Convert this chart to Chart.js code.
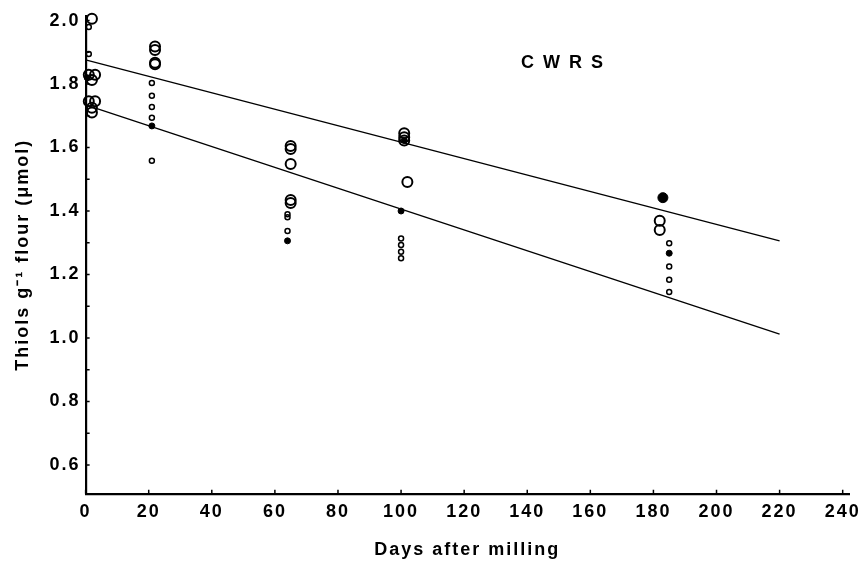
<!DOCTYPE html>
<html>
<head>
<meta charset="utf-8">
<script src="https://cdn.jsdelivr.net/npm/chart.js@4"></script>
<style>
  html, body { margin: 0; padding: 0; background: #fff; }
  #wrap { width: 868px; height: 565px; }
</style>
</head>
<body>
<div id="wrap"><canvas id="chart" width="868" height="565"></canvas></div>
<script>
// Thiol content of CWRS flour vs storage time
const xTicks = [0, 20, 40, 60, 80, 100, 120, 140, 160, 180, 200, 220, 240];
const yTicks = [0.6, 0.7, 0.8, 0.9, 1.0, 1.1, 1.2, 1.3, 1.4, 1.5, 1.6, 1.7, 1.8, 1.9, 2.0];

// large open circles
const largeOpenX = [2, 1, 3, 2, 1, 3, 2, 2, 22, 22, 22, 22, 65, 65, 65, 65, 65, 101, 101, 101, 102, 182, 182];
const largeOpenY = [2.006, 1.829, 1.829, 1.813, 1.746, 1.746, 1.725, 1.71, 1.918, 1.907, 1.867, 1.862, 1.605, 1.595, 1.548, 1.435, 1.425, 1.645, 1.632, 1.622, 1.491, 1.369, 1.340];

// small open circles
const smallOpenX = [1, 1, 21, 21, 21, 21, 21, 64, 64, 64, 100, 100, 100, 100, 185, 185, 185, 185];
const smallOpenY = [1.98, 1.895, 1.803, 1.763, 1.728, 1.694, 1.558, 1.39, 1.38, 1.337, 1.313, 1.293, 1.272, 1.251, 1.298, 1.225, 1.183, 1.145];

// small filled circles
const smallFilledX = [0.5, 21, 64, 100, 101, 185];
const smallFilledY = [1.82, 1.668, 1.306, 1.40, 1.622, 1.267];

// large filled circles
const largeFilledX = [183];
const largeFilledY = [1.442];

// regression lines
const lineX = [0, 220];
const upperLineY = [1.876, 1.306];
const lowerLineY = [1.734, 1.012];

const pts = (xs, ys) => xs.map((x, i) => ({ x, y: ys[i] }));

const FONT = 'Liberation Sans, Arial, sans-serif';

// wide tracking like the typeset original
const spacingPlugin = {
  id: 'tracking',
  beforeDraw(chart) {
    chart.ctx.letterSpacing = '2px';
  }
};

// inward tick marks on both axes + the "CWRS" label
const marksPlugin = {
  id: 'marks',
  afterDraw(chart) {
    const { ctx, scales, chartArea } = chart;
    ctx.save();
    ctx.strokeStyle = '#000';
    ctx.lineWidth = 1.5;
    ctx.beginPath();
    xTicks.forEach(v => {
      const px = scales.x.getPixelForValue(v);
      ctx.moveTo(px, chartArea.bottom);
      ctx.lineTo(px, chartArea.bottom - 4);
    });
    yTicks.forEach(v => {
      const py = scales.y.getPixelForValue(v);
      ctx.moveTo(chartArea.left, py);
      ctx.lineTo(chartArea.left + 4, py);
    });
    ctx.stroke();

    ctx.font = 'bold 18px ' + FONT;
    ctx.letterSpacing = '9px';
    ctx.fillStyle = '#000';
    ctx.textAlign = 'left';
    ctx.textBaseline = 'middle';
    const txt = 'CWRS';
    const w = ctx.measureText(txt).width - 9;
    const px = scales.x.getPixelForValue(151);
    const py = scales.y.getPixelForValue(1.866);
    ctx.fillText(txt, px - w / 2, py);
    ctx.restore();
  }
};

const scatterSet = (xs, ys, radius, border, fill) => ({
  data: pts(xs, ys),
  clip: false,
  pointRadius: radius,
  pointBorderWidth: border,
  pointBorderColor: '#000',
  pointBackgroundColor: fill
});

new Chart(document.getElementById('chart'), {
  type: 'scatter',
  data: {
    datasets: [
      {
        data: pts(lineX, upperLineY),
        showLine: true,
        borderColor: '#000',
        borderWidth: 1.3,
        pointRadius: 0
      },
      {
        data: pts(lineX, lowerLineY),
        showLine: true,
        borderColor: '#000',
        borderWidth: 1.3,
        pointRadius: 0
      },
      scatterSet(largeOpenX, largeOpenY, 5, 2, 'rgba(255,255,255,0)'),
      scatterSet(smallOpenX, smallOpenY, 2.5, 1.5, 'rgba(255,255,255,0)'),
      scatterSet(smallFilledX, smallFilledY, 3, 1, '#000'),
      scatterSet(largeFilledX, largeFilledY, 5, 1, '#000')
    ]
  },
  options: {
    responsive: false,
    animation: false,
    layout: {
      padding: { top: 12, right: 19, bottom: 4, left: 12 }
    },
    scales: {
      x: {
        type: 'linear',
        min: 0,
        max: 242,
        afterBuildTicks: axis => { axis.ticks = xTicks.map(v => ({ value: v })); },
        border: { color: '#000', width: 2.2 },
        grid: { drawOnChartArea: false, drawTicks: false },
        ticks: {
          color: '#000',
          font: { family: FONT, size: 18, weight: 'bold' },
          maxRotation: 0,
          padding: 7
        },
        title: {
          display: true,
          text: 'Days after milling',
          color: '#000',
          font: { family: FONT, size: 18, weight: 'bold' },
          padding: { top: 10, bottom: 0 }
        }
      },
      y: {
        type: 'linear',
        min: 0.509,
        max: 2.015,
        afterBuildTicks: axis => { axis.ticks = yTicks.map(v => ({ value: v })); },
        border: { color: '#000', width: 2.2 },
        grid: { drawOnChartArea: false, drawTicks: false },
        ticks: {
          color: '#000',
          font: { family: FONT, size: 18, weight: 'bold' },
          padding: 5,
          callback: v => (Math.round(v * 10) % 2 === 0 ? v.toFixed(1) : '')
        },
        title: {
          display: true,
          text: 'Thiols g\u207B\u00B9 flour (\u03BCmol)',
          color: '#000',
          font: { family: FONT, size: 18, weight: 'bold' },
          padding: { top: 0, bottom: 17 }
        }
      }
    },
    plugins: {
      legend: { display: false },
      tooltip: { enabled: false }
    }
  },
  plugins: [spacingPlugin, marksPlugin]
});
</script>
</body>
</html>
